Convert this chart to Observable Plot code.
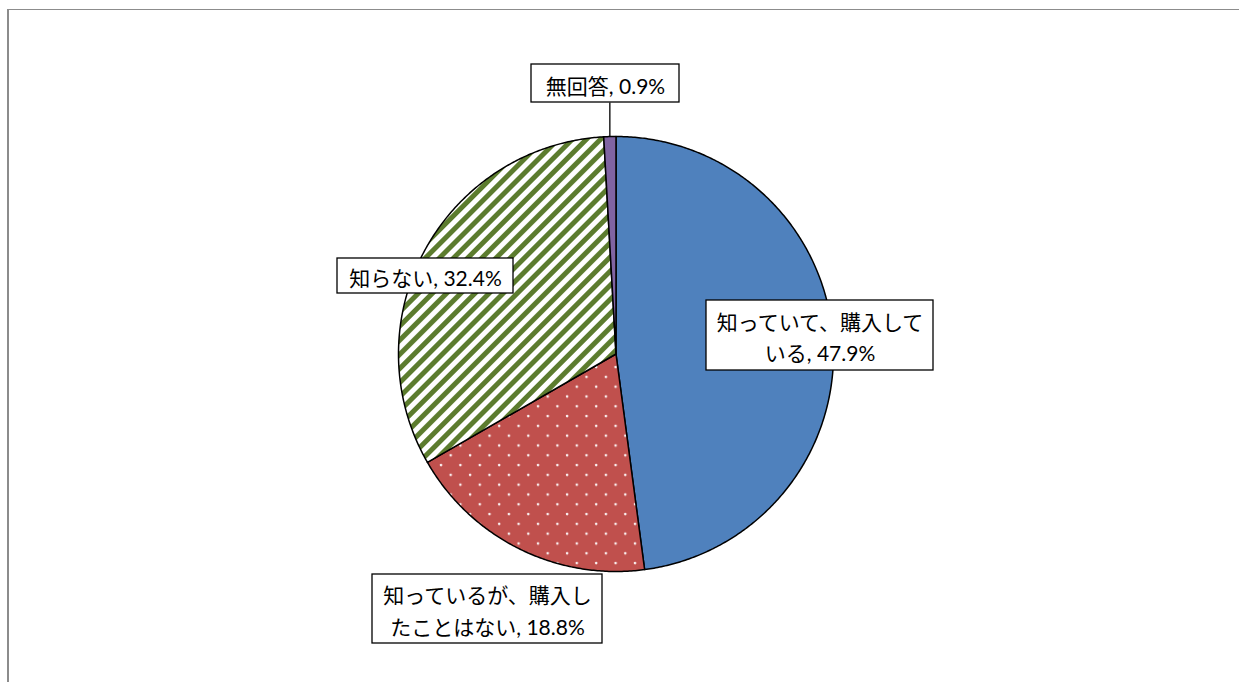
<!DOCTYPE html>
<html><head><meta charset="utf-8">
<script src="https://cdn.jsdelivr.net/npm/d3@7"></script>
<script src="https://cdn.jsdelivr.net/npm/@observablehq/plot@0.6"></script>
<style>
html,body{margin:0;padding:0;background:#fff;overflow:hidden}
#wrap{position:relative;width:1239px;height:682px;overflow:hidden}
#frame{position:absolute;left:7px;top:9px;width:1300px;height:800px;border-top:1.5px solid #8c8c8c;border-left:2px solid #8c8c8c}
#chart{position:absolute;left:0;top:0}
</style></head><body>
<div id="wrap"><div id="frame"></div><div id="chart"></div></div>
<script>
// ---- data ----
const categories = ["知っていて、購入している", "知っているが、購入したことはない", "知らない", "無回答"];
const values = [47.9, 18.8, 32.4, 0.9];
// where each box label wraps (characters in first line), Excel-like
const wrapAt = [10, 10, null, null];

// ---- styles / layout ----
const fills = ["#4F81BD", "url(#dots)", "url(#stripes)", "#8064A2"];
const boxes = [
  {x1: 706, x2: 933, y1: 300, y2: 370},
  {x1: 372, x2: 602, y1: 574, y2: 643},
  {x1: 337, x2: 513, y1: 258, y2: 293},
  {x1: 531, x2: 679, y1: 64, y2: 102}
];
const W = 1239, H = 682, cx = 615.5, cy = 353.5, R = 217.5;

const arcs = d3.pie().sort(null).value(d => d)(values);
const slices = arcs.map((a, i) => {
  const n = Math.max(2, Math.ceil((a.endAngle - a.startAngle) / (Math.PI / 360)));
  const pts = [{x: cx, y: cy}];
  for (let k = 0; k <= n; k++) {
    const t = a.startAngle + (a.endAngle - a.startAngle) * k / n;
    pts.push({x: cx + R * Math.sin(t), y: cy - R * Math.cos(t)});
  }
  pts.push({x: cx, y: cy});
  return pts;
});

const labels = categories.map((c, i) => {
  const full = `${c}, ${values[i].toFixed(1)}%`;
  const text = wrapAt[i] ? full.slice(0, wrapAt[i]) + "\n" + full.slice(wrapAt[i]) : full;
  const b = boxes[i];
  return {text, ...b, x: (b.x1 + b.x2) / 2, y: (b.y1 + b.y2) / 2};
});

// leader line for the small slice (無回答)
const small = arcs[3];
const mid = (small.startAngle + small.endAngle) / 2;
const leader = [{x1: cx + R * Math.sin(mid), y1: cy - R * Math.cos(mid), y2: boxes[3].y2}];

const defsMark = () => {
  const defs = d3.create("svg:defs");
  const st = defs.append("pattern").attr("id", "stripes").attr("patternUnits", "userSpaceOnUse")
    .attr("width", 10).attr("height", 10).attr("patternTransform", "rotate(45)");
  st.append("rect").attr("width", 10).attr("height", 10).attr("fill", "#fff");
  st.append("rect").attr("width", 5).attr("height", 10).attr("fill", "#5C7C2E");
  const dt = defs.append("pattern").attr("id", "dots").attr("patternUnits", "userSpaceOnUse")
    .attr("width", 19.4).attr("height", 19.6);
  dt.append("rect").attr("width", 19.4).attr("height", 19.6).attr("fill", "#C0504D");
  dt.append("circle").attr("cx", 4).attr("cy", 4).attr("r", 1.3).attr("fill", "#fff").attr("fill-opacity", 0.92);
  dt.append("circle").attr("cx", 13.7).attr("cy", 13.8).attr("r", 1.3).attr("fill", "#fff").attr("fill-opacity", 0.92);
  return defs.node();
};

const chart = Plot.plot({
  width: W, height: H,
  margin: 0,
  x: {domain: [0, W], range: [0, W], axis: null},
  y: {domain: [0, H], range: [0, H], axis: null},
  style: {background: "transparent", overflow: "visible"},
  marks: [
    defsMark,
    ...slices.map((pts, i) => Plot.line(pts, {
      x: "x", y: "y", fill: fills[i], stroke: "#000", strokeWidth: 1.5, strokeLinejoin: "round"
    })),
    Plot.link(leader, {x1: "x1", y1: "y1", x2: "x1", y2: "y2", stroke: "#000", strokeWidth: 1.3}),
    Plot.rect(labels, {x1: "x1", x2: "x2", y1: "y1", y2: "y2", fill: "#fff", stroke: "#000", strokeWidth: 1.3}),
    Plot.text(labels, {
      x: "x", y: "y", text: "text", fontSize: 21, lineHeight: 1.5, lineAnchor: "middle",
      textAnchor: "middle", fill: "#000",
      fontFamily: "Lato, 'Noto Sans CJK JP', sans-serif"
    })
  ]
});
document.getElementById("chart").appendChild(chart);
</script>
</body></html>
